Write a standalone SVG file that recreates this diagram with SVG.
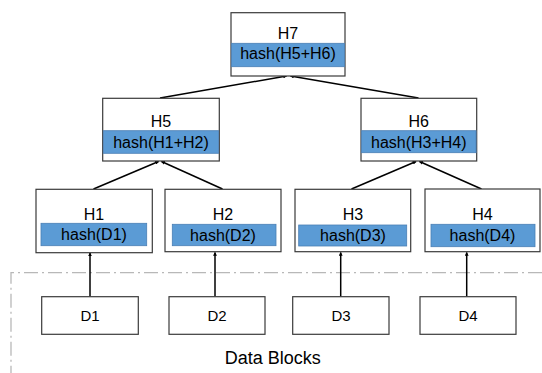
<svg xmlns="http://www.w3.org/2000/svg" width="542" height="373" viewBox="0 0 542 373">
  <style>
    .box { fill: #ffffff; stroke: #3a3a3a; stroke-width: 1.2; }
    .band { fill: #5b9bd5; stroke: #4a7fb5; stroke-width: 0.8; }
    .lbl { font-family: "Liberation Sans", Arial, sans-serif; font-size: 16px; fill: #000; text-anchor: middle; }
    .dlbl { font-family: "Liberation Sans", Arial, sans-serif; font-size: 15px; fill: #000; text-anchor: middle; }
    .edge { stroke: #000; stroke-width: 1.5; fill: none; marker-end: url(#arrow); }
    .frame { stroke: #b8b8b8; stroke-width: 1.3; fill: none; stroke-dasharray: 14 4 2 4; }
  </style>
  <defs>
    <marker id="arrow" viewBox="0 0 6 6" refX="5" refY="3" markerWidth="2.6" markerHeight="2.6" orient="auto" markerUnits="strokeWidth">
      <path d="M0,0 L6,3 L0,6 z" fill="#000"/>
    </marker>
  </defs>

  <!-- data block boundary -->
  <path class="frame" d="M542,272.7 H11 V373"/>

  <g id="connectors">
    <line class="edge" x1="160" y1="98" x2="286.5" y2="76"/>
    <line class="edge" x1="418.5" y1="98" x2="290.5" y2="76"/>
    <line class="edge" x1="93.5" y1="189" x2="158.5" y2="161.5"/>
    <line class="edge" x1="222.5" y1="189" x2="161.5" y2="161.5"/>
    <line class="edge" x1="351.5" y1="189" x2="416" y2="161.5"/>
    <line class="edge" x1="481.5" y1="189" x2="419.5" y2="161.5"/>
    <line class="edge" x1="90" y1="296.5" x2="90" y2="253"/>
    <line class="edge" x1="215" y1="296.5" x2="215" y2="252.5"/>
    <line class="edge" x1="340.7" y1="296.5" x2="340.7" y2="252.5"/>
    <line class="edge" x1="466.7" y1="296.5" x2="466.7" y2="252.5"/>
  </g>

  <g id="H7">
    <rect class="box" x="231" y="12.7" width="114" height="63.3"/>
    <rect class="band" x="231.6" y="43.3" width="112.8" height="23.4"/>
    <text class="lbl" x="288" y="38.7">H7</text>
    <text class="lbl" x="288" y="59">hash(H5+H6)</text>
  </g>

  <g id="H5">
    <rect class="box" x="102.7" y="98.3" width="116.6" height="62.7"/>
    <rect class="band" x="103.3" y="130.7" width="115.4" height="22.6"/>
    <text class="lbl" x="161" y="127">H5</text>
    <text class="lbl" x="161" y="147.5">hash(H1+H2)</text>
  </g>

  <g id="H6">
    <rect class="box" x="361" y="98.3" width="115.7" height="62.7"/>
    <rect class="band" x="361.6" y="130.7" width="114.5" height="22"/>
    <text class="lbl" x="418.8" y="127">H6</text>
    <text class="lbl" x="418.8" y="147.5">hash(H3+H4)</text>
  </g>

  <g id="H1">
    <rect class="box" x="36" y="189.3" width="116.3" height="63.4"/>
    <rect class="band" x="41" y="223.3" width="105.7" height="22.4"/>
    <text class="lbl" x="94" y="219.5">H1</text>
    <text class="lbl" x="94" y="239.5">hash(D1)</text>
  </g>

  <g id="H2">
    <rect class="box" x="165" y="189.3" width="116" height="62.4"/>
    <rect class="band" x="172.3" y="224.3" width="103.7" height="21.4"/>
    <text class="lbl" x="223" y="219.5">H2</text>
    <text class="lbl" x="223" y="240.5">hash(D2)</text>
  </g>

  <g id="H3">
    <rect class="box" x="295" y="189.3" width="115.7" height="62.4"/>
    <rect class="band" x="298.7" y="225" width="108" height="21"/>
    <text class="lbl" x="353" y="219.5">H3</text>
    <text class="lbl" x="353" y="241">hash(D3)</text>
  </g>

  <g id="H4">
    <rect class="box" x="425" y="189" width="115" height="62.7"/>
    <rect class="band" x="431" y="224.3" width="104" height="22.4"/>
    <text class="lbl" x="482.5" y="219.5">H4</text>
    <text class="lbl" x="482.5" y="240.5">hash(D4)</text>
  </g>

  <g id="D1">
    <rect class="box" x="41.7" y="296.7" width="96.6" height="37.6"/>
    <text class="dlbl" x="90" y="321">D1</text>
  </g>
  <g id="D2">
    <rect class="box" x="169" y="296.7" width="96" height="37.6"/>
    <text class="dlbl" x="217" y="321">D2</text>
  </g>
  <g id="D3">
    <rect class="box" x="292.7" y="296.7" width="96.3" height="37.6"/>
    <text class="dlbl" x="341" y="321">D3</text>
  </g>
  <g id="D4">
    <rect class="box" x="420" y="296.7" width="96" height="37.6"/>
    <text class="dlbl" x="468" y="321">D4</text>
  </g>

  <text id="data-blocks" x="272.7" y="364" font-family="'Liberation Sans', Arial, sans-serif" font-size="18" fill="#000" text-anchor="middle">Data Blocks</text>
</svg>
